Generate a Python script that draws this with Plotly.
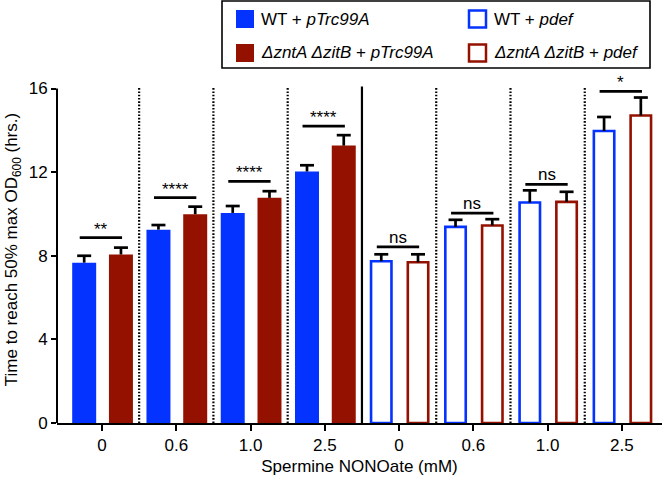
import plotly.graph_objects as go

# ---------------- data ----------------
conc_labels = ["0", "0.6", "1.0", "2.5", "0", "0.6", "1.0", "2.5"]

wt_ptrc = [7.67, 9.25, 10.05, 12.03]
wt_ptrc_err = [0.33, 0.22, 0.33, 0.30]
dz_ptrc = [8.06, 9.99, 10.77, 13.27]
dz_ptrc_err = [0.33, 0.36, 0.32, 0.50]

wt_pdef = [7.74, 9.38, 10.55, 13.97]
wt_pdef_err = [0.33, 0.34, 0.58, 0.67]
dz_pdef = [7.69, 9.45, 10.58, 14.71]
dz_pdef_err = [0.38, 0.30, 0.48, 0.86]

sig_labels = ["**", "****", "****", "****", "ns", "ns", "ns", "*"]
sig_y = [8.87, 10.78, 11.56, 14.20, 8.43, 10.04, 11.42, 15.86]

y_ticks = [0, 4, 8, 12, 16]

# ---------------- style ----------------
BLUE = "#0433FF"
RED = "#941100"
FONT = "Liberation Sans, Arial, sans-serif"
FS = 17

L, R, T, B = 57, 4, 76, 55
W, H = 666, 478
PW, PH = W - L - R, H - T - B
XR = [-0.606, 7.54]
YR = [0, 16.6]

def px2paper_x(px):
    return (px - L) / PW

def px2paper_y(py):
    return (H - B - py) / PH

off_a, off_b = -0.24, 0.255
w_fill, w_open = 0.323, 0.275
cap_half = 7 / (PW / (XR[1] - XR[0]))

fig = go.Figure()

left_idx = list(range(4))
right_idx = list(range(4, 8))

fig.add_trace(go.Bar(x=[i + off_a for i in left_idx], y=wt_ptrc, width=w_fill,
                     marker=dict(color=BLUE, line=dict(width=0)), showlegend=False))
fig.add_trace(go.Bar(x=[i + off_b for i in left_idx], y=dz_ptrc, width=w_fill,
                     marker=dict(color=RED, line=dict(width=0)), showlegend=False))
fig.add_trace(go.Bar(x=[i + off_a for i in right_idx], y=wt_pdef, width=w_open,
                     marker=dict(color="white", line=dict(color=BLUE, width=2.6)), showlegend=False))
fig.add_trace(go.Bar(x=[i + off_b for i in right_idx], y=dz_pdef, width=w_open,
                     marker=dict(color="white", line=dict(color=RED, width=2.6)), showlegend=False))

# error bars (upper only), built from data
ex, ey = [], []
for idxs, off, vals, errs in [(left_idx, off_a, wt_ptrc, wt_ptrc_err),
                              (left_idx, off_b, dz_ptrc, dz_ptrc_err),
                              (right_idx, off_a, wt_pdef, wt_pdef_err),
                              (right_idx, off_b, dz_pdef, dz_pdef_err)]:
    for i, v, e in zip(idxs, vals, errs):
        xc = i + off
        ex += [xc, xc, None, xc - cap_half, xc + cap_half, None]
        ey += [v, v + e, None, v + e, v + e, None]
fig.add_trace(go.Scatter(x=ex, y=ey, mode="lines", line=dict(color="black", width=2.7),
                         showlegend=False, hoverinfo="skip", cliponaxis=False))

# significance lines
sx, sy = [], []
for i, yv in enumerate(sig_y):
    sx += [i - 0.30, i + 0.27, None]
    sy += [yv, yv, None]
fig.add_trace(go.Scatter(x=sx, y=sy, mode="lines", line=dict(color="black", width=2.8),
                         showlegend=False, hoverinfo="skip", cliponaxis=False))

annotations = []
for i, (lab, yv) in enumerate(zip(sig_labels, sig_y)):
    annotations.append(dict(x=i - 0.015, y=yv, xref="x", yref="y", text=lab, showarrow=False,
                            yanchor="bottom", yshift=(-2 if lab == "ns" else -3),
                            font=dict(family=FONT, size=FS, color="black")))

shapes = []
# separators
for k in range(7):
    xs = k + 0.5
    if k == 3:
        shapes.append(dict(type="line", xref="x", yref="y", x0=xs, x1=xs, y0=-0.07, y1=16.1,
                           line=dict(color="black", width=2.2)))
    else:
        shapes.append(dict(type="line", xref="x", yref="y", x0=xs, x1=xs, y0=0, y1=16.1,
                           line=dict(color="black", width=2.2, dash="1.6px,1.7px")))
# y axis line (to 16 only)
shapes.append(dict(type="line", xref="paper", yref="y", x0=0, x1=0, y0=0, y1=16,
                   line=dict(color="black", width=2)))

# custom legend
shapes.append(dict(type="rect", xref="paper", yref="paper",
                   x0=px2paper_x(222), x1=px2paper_x(650), y0=px2paper_y(68), y1=px2paper_y(1),
                   line=dict(color="black", width=1.6), fillcolor="white"))
legend_items = [
    (236, 19, BLUE, True, 259, "WT + <i>pTrc99A</i>"),
    (236, 53, RED, True, 259, "<i>\u0394zntA \u0394zitB</i> + <i>pTrc99A</i>"),
    (468, 19, BLUE, False, 492, "WT + <i>pdef</i>"),
    (468, 53, RED, False, 492, "<i>\u0394zntA \u0394zitB</i> + <i>pdef</i>"),
]
for sx0, cy, col, filled, tx, txt in legend_items:
    if filled:
        shapes.append(dict(type="rect", xref="paper", yref="paper",
                           x0=px2paper_x(sx0), x1=px2paper_x(sx0 + 18),
                           y0=px2paper_y(cy + 9), y1=px2paper_y(cy - 9),
                           line=dict(width=0), fillcolor=col))
    else:
        shapes.append(dict(type="rect", xref="paper", yref="paper",
                           x0=px2paper_x(sx0 + 1), x1=px2paper_x(sx0 + 18),
                           y0=px2paper_y(cy + 8.5), y1=px2paper_y(cy - 8.5),
                           line=dict(width=2.5, color=col), fillcolor="white"))
    annotations.append(dict(x=px2paper_x(tx), y=px2paper_y(cy), xref="paper", yref="paper",
                            text=txt, showarrow=False, xanchor="left", yanchor="middle",
                            font=dict(family=FONT, size=FS, color="black")))

fig.update_layout(
    width=W, height=H,
    margin=dict(l=L, r=R, t=T, b=B, pad=0),
    paper_bgcolor="white", plot_bgcolor="white",
    barmode="overlay",
    hovermode=False,
    font=dict(family=FONT, size=FS, color="black"),
    shapes=shapes,
    annotations=annotations,
    xaxis=dict(range=XR, tickmode="array", tickvals=list(range(8)), ticktext=conc_labels,
               showline=True, linecolor="black", linewidth=2, ticks="outside", ticklen=6,
               tickwidth=2, tickcolor="black", showgrid=False, zeroline=False,
               tickfont=dict(family=FONT, size=FS),
               title=dict(text="Spermine NONOate (mM)", font=dict(family=FONT, size=FS), standoff=6)),
    yaxis=dict(range=YR, tickmode="array", tickvals=y_ticks, ticktext=[str(v) for v in y_ticks],
               showline=False, ticks="outside", ticklen=5, tickwidth=2, tickcolor="black",
               showgrid=False, zeroline=False, tickfont=dict(family=FONT, size=FS),
               title=dict(text="Time to reach 50% max OD<sub>600</sub> (hrs.)",
                          font=dict(family=FONT, size=FS), standoff=6)),
)

fig.write_html("out.html", config={"displayModeBar": False},
               post_script="document.body.style.margin='0';document.body.style.overflow='hidden';")
